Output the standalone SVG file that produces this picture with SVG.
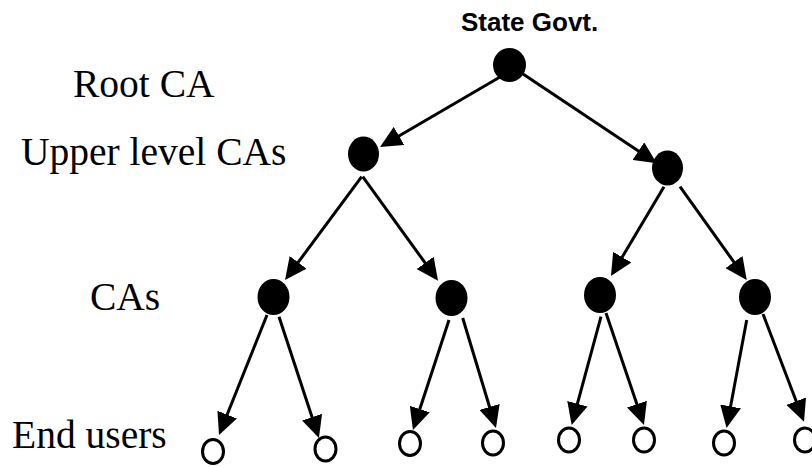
<svg xmlns="http://www.w3.org/2000/svg" width="812" height="467" viewBox="0 0 812 467">
<style>
.lbl{font-family:"Liberation Serif","Times New Roman",serif;font-size:39.5px;fill:#000}
.title{font-family:"Liberation Sans",Arial,sans-serif;font-size:26px;font-weight:bold;fill:#000}
.ca{fill:#000;stroke:none}
.user{fill:#fff;stroke:#000;stroke-width:3}
.edge{stroke:#000;stroke-width:3;fill:none;marker-end:url(#arrow)}
</style>
<defs>
<marker id="arrow" markerUnits="userSpaceOnUse" markerWidth="22" markerHeight="21" refX="18" refY="10.5" orient="auto" viewBox="0 0 22 21">
<path d="M0,0 L22,10.5 L0,21 Z" fill="#000"/>
</marker>
</defs>
<rect width="812" height="467" fill="#fff"/>
<g id="labels">
<text class="lbl" x="73" y="97">Root CA</text>
<text class="lbl" x="21" y="165">Upper level CAs</text>
<text class="lbl" x="90" y="310">CAs</text>
<text class="lbl" x="12" y="448">End users</text>
</g>
<g id="connectors">
<line class="edge" x1="500" y1="77" x2="383.5" y2="145"/>
<line class="edge" x1="523" y1="74" x2="653.4" y2="161.1"/>
<line class="edge" x1="361.7" y1="176.7" x2="287.4" y2="276.8"/>
<line class="edge" x1="362.7" y1="176.7" x2="435.7" y2="277.5"/>
<line class="edge" x1="664" y1="186.7" x2="613" y2="272.6"/>
<line class="edge" x1="680" y1="186.7" x2="744.4" y2="276.7"/>
<line class="edge" x1="267" y1="315" x2="220.5" y2="431.3"/>
<line class="edge" x1="279" y1="316.7" x2="317.7" y2="434.2"/>
<line class="edge" x1="449" y1="320" x2="414.2" y2="426.2"/>
<line class="edge" x1="462.7" y1="318" x2="494.8" y2="424.2"/>
<line class="edge" x1="601" y1="316.7" x2="572.7" y2="421.1"/>
<line class="edge" x1="606" y1="313" x2="642.7" y2="421.2"/>
<line class="edge" x1="746.7" y1="320" x2="727.3" y2="424.1"/>
<line class="edge" x1="763" y1="314" x2="802.6" y2="418"/>
</g>
<g id="root">
<text class="title" x="461" y="31">State Govt.</text>
<ellipse class="ca" cx="509.5" cy="65" rx="16.5" ry="17"/>
</g>
<g id="upper-left"><ellipse class="ca" cx="363.5" cy="154" rx="15.5" ry="17.5"/></g>
<g id="upper-right"><ellipse class="ca" cx="667.5" cy="168" rx="15.5" ry="17.5"/></g>
<g id="ca-1"><ellipse class="ca" cx="273.5" cy="297" rx="16" ry="18"/></g>
<g id="ca-2"><ellipse class="ca" cx="451.5" cy="298" rx="16" ry="18"/></g>
<g id="ca-3"><ellipse class="ca" cx="600" cy="295" rx="16" ry="18"/></g>
<g id="ca-4"><ellipse class="ca" cx="755" cy="297" rx="16" ry="18"/></g>
<g id="user-1"><ellipse class="user" cx="213" cy="451.5" rx="10.5" ry="12"/></g>
<g id="user-2"><ellipse class="user" cx="325.5" cy="449" rx="10.5" ry="12"/></g>
<g id="user-3"><ellipse class="user" cx="410" cy="443.5" rx="10.5" ry="12"/></g>
<g id="user-4"><ellipse class="user" cx="493" cy="443" rx="10.5" ry="12"/></g>
<g id="user-5"><ellipse class="user" cx="569" cy="440" rx="10.5" ry="12"/></g>
<g id="user-6"><ellipse class="user" cx="644" cy="440" rx="10.5" ry="12"/></g>
<g id="user-7"><ellipse class="user" cx="724" cy="443" rx="10.5" ry="12"/></g>
<g id="user-8"><ellipse class="user" cx="805" cy="440" rx="10.5" ry="12"/></g>
</svg>
